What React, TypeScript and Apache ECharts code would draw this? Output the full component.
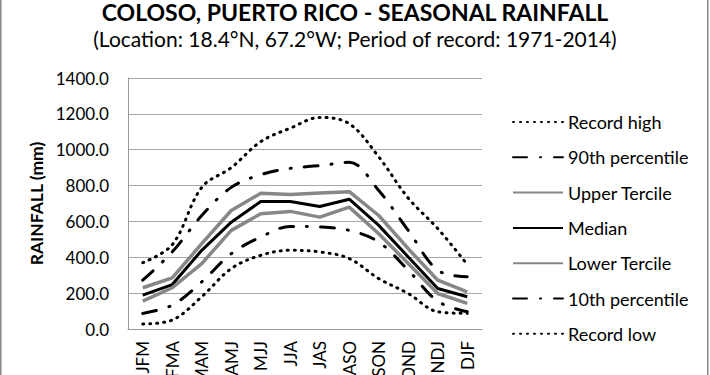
import React, { useEffect, useRef } from "react";
import * as echarts from "echarts";

const categories = ["JFM", "FMA", "MAM", "AMJ", "MJJ", "JJA", "JAS", "ASO", "SON", "OND", "NDJ", "DJF"];
const recordHigh = [370, 470, 790, 900, 1045, 1120, 1180, 1145, 960, 730, 560, 360];
const p90 = [272, 430, 633, 790, 861, 896, 911, 930, 772, 550, 328, 291];
const upperTercile = [230, 285, 476, 661, 757, 750, 759, 766, 633, 448, 272, 207];
const median = [189, 248, 439, 596, 711, 711, 683, 724, 578, 402, 226, 180];
const lowerTercile = [156, 230, 365, 550, 643, 656, 624, 680, 531, 365, 198, 143];
const p10 = [87, 133, 263, 420, 513, 572, 569, 550, 485, 328, 155, 96];
const recordLow = [28, 50, 180, 337, 411, 439, 430, 393, 281, 198, 96, 87];

const FONT = "Lato, 'Open Sans', sans-serif";

export default function App() {
  const ref = useRef<HTMLDivElement>(null);
  useEffect(() => {
    if (!ref.current) return;
    const chart = echarts.init(ref.current, null, { renderer: "svg" });
    const dotted = { color: "#000", width: 3, type: [1, 6], cap: "round" as const };
    const dashDot = { color: "#000", width: 3, type: [14, 13, 1, 13], cap: "round" as const };
    const gray = { color: "#878787", width: 3.5, type: "solid" as const };
    const black = { color: "#000", width: 3, type: "solid" as const };
    const mk = (name: string, data: number[], ls: any, smooth: number | boolean) => ({
      name,
      type: "line",
      data,
      smooth,
      symbol: "none",
      lineStyle: ls,
      itemStyle: { color: ls.color },
    });
    chart.setOption({
      animation: false,
      backgroundColor: "#fff",
      textStyle: { fontFamily: FONT },
      title: [
        {
          text: "COLOSO, PUERTO RICO - SEASONAL RAINFALL",
          left: "center",
          top: 0,
          padding: 0,
          textStyle: { fontFamily: FONT, fontWeight: "bold", fontSize: 23, lineHeight: 24, color: "#000" },
        },
        {
          text: "(Location: 18.4°N, 67.2°W; Period of record: 1971-2014)",
          left: "center",
          top: 28,
          padding: 0,
          textStyle: { fontFamily: FONT, fontWeight: "normal", fontSize: 21, color: "#000" },
        },
      ],
      grid: { left: 128, right: 228, top: 78, bottom: 46, containLabel: false, outerBoundsMode: "none" },
      legend: {
        orient: "vertical",
        left: 512,
        top: 112,
        padding: 0,
        itemWidth: 50,
        itemHeight: 14,
        itemGap: 15.3,
        itemStyle: { opacity: 0 },
        textStyle: { fontFamily: FONT, fontSize: 18, lineHeight: 20, color: "#000", padding: [0, 0, 0, 0] },
        data: ["Record high", "90th percentile", "Upper Tercile", "Median", "Lower Tercile", "10th percentile", "Record low"],
      },
      xAxis: {
        type: "category",
        data: categories,
        boundaryGap: true,
        axisLine: { lineStyle: { color: "#999", width: 1 } },
        axisTick: { show: false },
        axisLabel: { rotate: 90, margin: 12, fontSize: 17, color: "#000", fontFamily: FONT },
      },
      yAxis: {
        type: "value",
        min: 0,
        max: 1400,
        interval: 200,
        name: "RAINFALL (mm)",
        nameLocation: "middle",
        nameGap: 83,
        nameTextStyle: { fontFamily: FONT, fontWeight: "bold", fontSize: 17.5, color: "#000" },
        axisLine: { show: true, lineStyle: { color: "#999", width: 1 } },
        axisTick: { show: false },
        splitLine: { lineStyle: { color: "#a6a6a6", width: 1 } },
        axisLabel: {
          margin: 19,
          fontSize: 17,
          color: "#000",
          fontFamily: FONT,
          formatter: (v: number) => v.toFixed(1),
        },
      },
      graphic: [
        { type: "rect", shape: { x: 0, y: 0, width: 1.5, height: 375 }, style: { fill: "#888" } },
        { type: "rect", shape: { x: 707, y: 0, width: 1.5, height: 375 }, style: { fill: "#888" } },
      ],
      series: [
        mk("Record high", recordHigh, dotted, 0.35),
        mk("90th percentile", p90, dashDot, 0.35),
        mk("Upper Tercile", upperTercile, gray, false),
        mk("Median", median, black, false),
        mk("Lower Tercile", lowerTercile, gray, false),
        mk("10th percentile", p10, dashDot, 0.35),
        mk("Record low", recordLow, dotted, 0.35),
      ],
    });
    return () => chart.dispose();
  }, []);
  return (
    <div
      ref={ref}
      style={{ position: "fixed", left: 0, top: 0, width: 710, height: 375, background: "#fff" }}
    />
  );
}
